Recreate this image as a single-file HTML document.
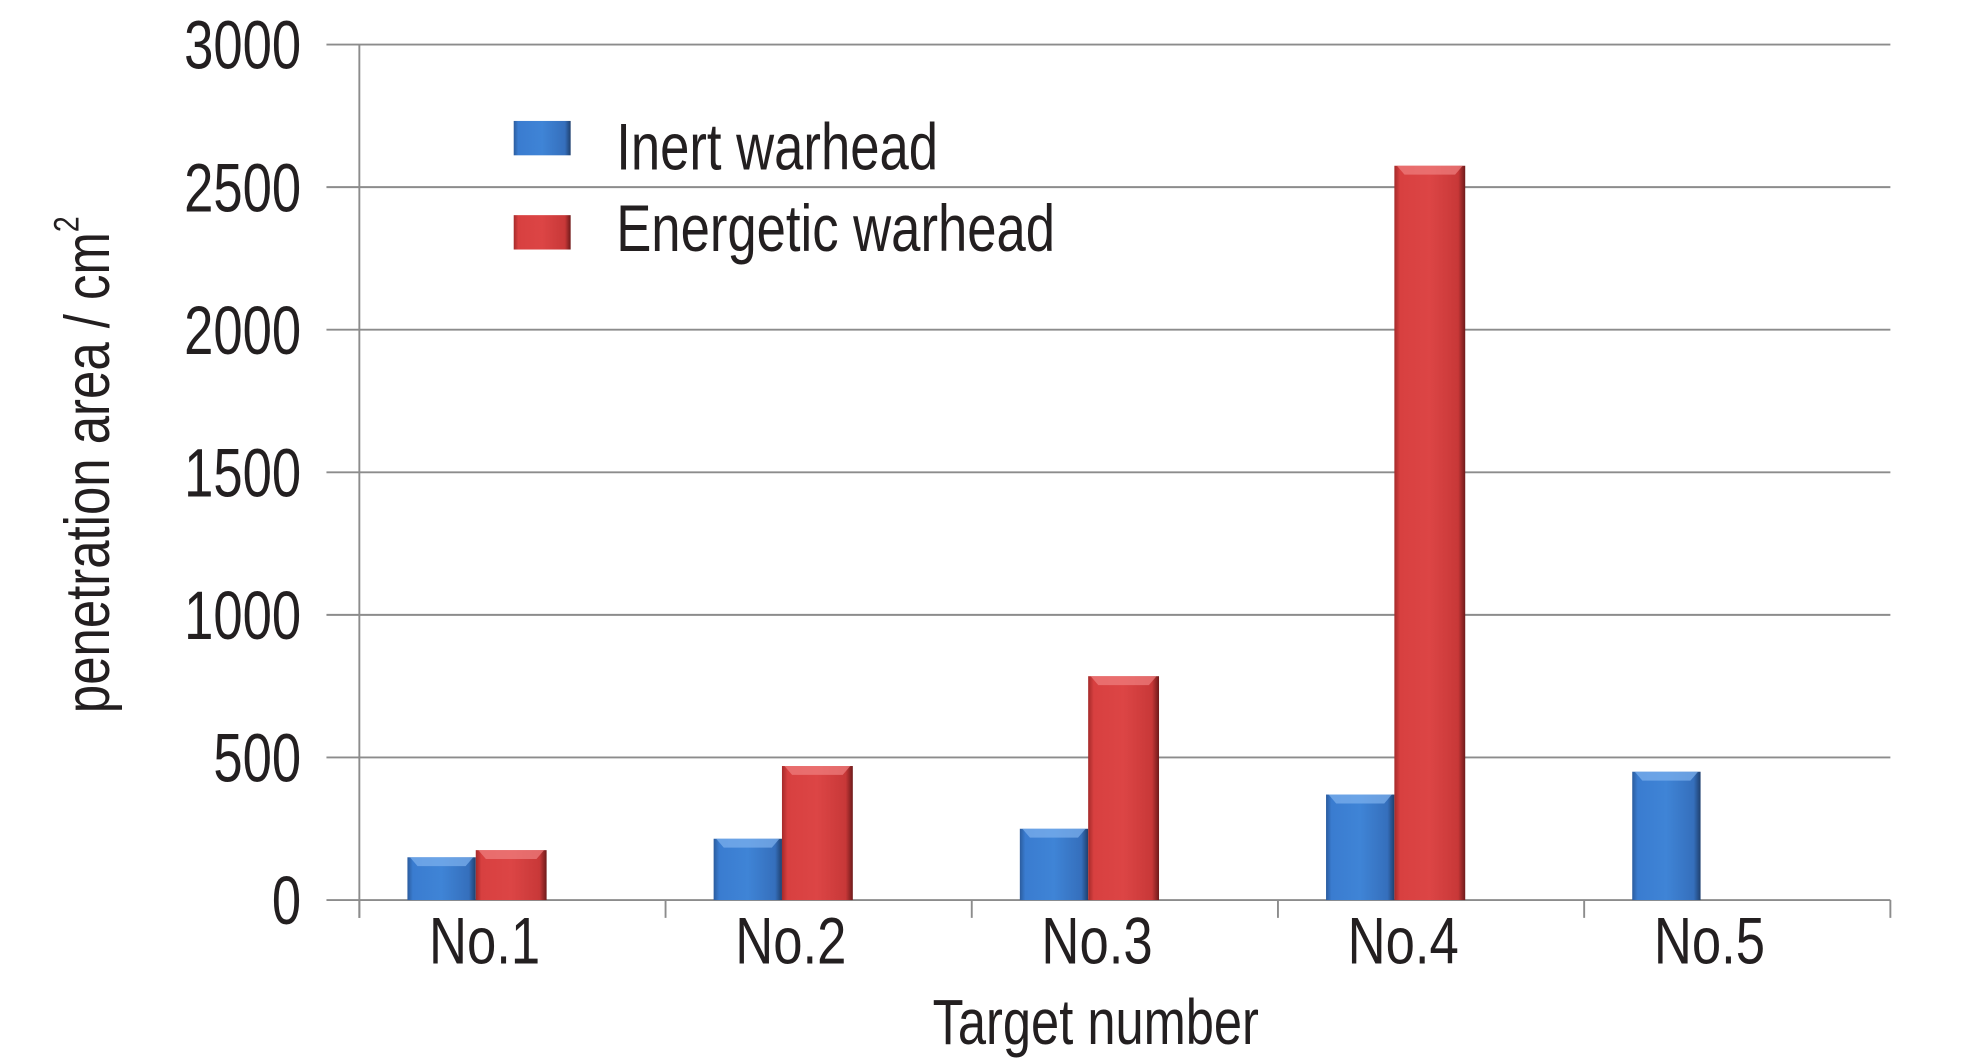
<!DOCTYPE html>
<html><head><meta charset="utf-8"><style>
html,body{margin:0;padding:0;background:#fff;width:1984px;height:1063px;overflow:hidden}
svg{display:block}
text{font-family:"Liberation Sans Narrow","Liberation Sans",sans-serif;fill:#231f20}
</style></head><body>
<svg id="chart" width="1984" height="1063" viewBox="0 0 1568 835" preserveAspectRatio="none" xmlns="http://www.w3.org/2000/svg">
<defs>
<linearGradient id="gb" x1="0" x2="1" y1="0" y2="0"><stop offset="0" stop-color="#2b5c9e"/><stop offset="0.08" stop-color="#3a7cd0"/><stop offset="0.5" stop-color="#3f84d6"/><stop offset="0.9" stop-color="#356fbc"/><stop offset="1" stop-color="#1f406e"/></linearGradient>
<linearGradient id="gr" x1="0" x2="1" y1="0" y2="0"><stop offset="0" stop-color="#a52a2a"/><stop offset="0.08" stop-color="#d84040"/><stop offset="0.5" stop-color="#dc4545"/><stop offset="0.9" stop-color="#c83838"/><stop offset="1" stop-color="#6e1a1a"/></linearGradient>
</defs>
<g id="grid"></g>
<g id="bars"></g>
<g id="axes"></g>
<g>
<rect x="406" y="95" width="45" height="27" fill="url(#gb)"/>
<text transform="translate(487,133) scale(0.8,1)" font-size="52">Inert warhead</text>
<rect x="406" y="169" width="45" height="27" fill="url(#gr)"/>
<text transform="translate(487,197) scale(0.8,1)" font-size="52">Energetic warhead</text>
</g>
<text transform="translate(866,820) scale(0.8,1)" text-anchor="middle" font-size="50">Target number</text>
<text transform="translate(86,365) rotate(-90) scale(0.8,1)" text-anchor="middle" font-size="50">penetration area / cm<tspan font-size="28" dy="-24">2</tspan></text>
</svg>
<script>
const categories=["No.1","No.2","No.3","No.4","No.5"];
const inertValues=[150,215,250,370,450];
const energeticValues=[175,470,785,2575,null];
const yTicks=[0,500,1000,1500,2000,2500,3000];
const NS="http://www.w3.org/2000/svg";
const X0=284,X1=1494,Y0=707,Y1=35,YMAX=3000;
const y=v=>Y0-(v/YMAX)*(Y0-Y1);
const bw=(X1-X0)/categories.length;
const cx=i=>X0+bw*(i+0.5);
function mk(tag,attrs,parent){const e=document.createElementNS(NS,tag);for(const k in attrs)e.setAttribute(k,attrs[k]);parent.appendChild(e);return e;}
const grid=document.getElementById('grid'),bars=document.getElementById('bars'),axes=document.getElementById('axes');
yTicks.forEach(t=>{
  const l=mk('line',{x1:X0-26,x2:X1,y1:y(t),y2:y(t),stroke:'#8c8c8c','stroke-width':1.5},grid);
  
  
  const tx=mk('text',{transform:`translate(238,${y(t)+19}) scale(0.77,1)`,'text-anchor':'end','font-size':54},axes);
  tx.textContent=t;
  
  
});
const ax=mk('line',{x1:X0,x2:X0,y1:Y1,y2:Y0+14,stroke:'#8c8c8c','stroke-width':1.5},axes);


for(let i=0;i<=categories.length;i++){
  const tk=mk('line',{x1:X0+bw*i,x2:X0+bw*i,y1:Y0,y2:Y0+14,stroke:'#8c8c8c','stroke-width':1.5},axes);
  
  
}
categories.forEach((c,i)=>{
  const tx=mk('text',{transform:`translate(${cx(i)-22},757) scale(0.8,1)`,'text-anchor':'middle','font-size':52},axes);
  tx.textContent=c;
  
  
  const drawBar=(v,x0,w,fill,top,name)=>{
    if(v==null)return;
    const g=mk('g',{},bars);
    
    
    mk('rect',{x:x0,y:y(v),width:w,height:Y0-y(v),fill:fill},g);
    mk('polygon',{points:`${x0+2},${y(v)} ${x0+w-2},${y(v)} ${x0+w-8},${y(v)+7} ${x0+8},${y(v)+7}`,fill:top,opacity:0.7},g);
  };
  drawBar(inertValues[i],cx(i)-83,54,'url(#gb)','#7fb2ee','bar-inert-'+(i+1));
  drawBar(energeticValues[i],cx(i)-29,56,'url(#gr)','#f08080','bar-energetic-'+(i+1));
});
</script>
</body></html>
